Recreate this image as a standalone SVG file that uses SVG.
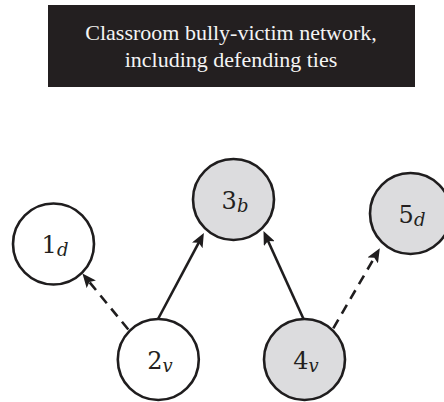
<svg xmlns="http://www.w3.org/2000/svg" width="444" height="402" viewBox="0 0 444 402">
  <style>
    .title { font-family: "Liberation Serif", "Times New Roman", serif; font-size: 22px; fill: #f4f4f4; text-anchor: middle; }
    .node circle { stroke: #1f1d1e; stroke-width: 2.6; }
    .plain circle { fill: #ffffff; }
    .shaded circle { fill: #dcdcde; }
    .lbl { font-family: "DejaVu Serif", "Liberation Serif", serif; font-size: 24px; fill: #231f20; text-anchor: middle; }
    .sub { font-style: italic; font-size: 18px; }
    .edge { stroke: #1f1d1e; stroke-width: 2.6; fill: none; marker-end: url(#head); }
    .dashed { stroke-dasharray: 10 7; }
  </style>
  <defs>
    <marker id="head" markerUnits="userSpaceOnUse" viewBox="0 0 14 12" markerWidth="14" markerHeight="12" refX="6" refY="6" orient="auto">
      <path d="M0,0 L14,6 L0,12 L3,6 z" fill="#1f1d1e"/>
    </marker>
  </defs>

  <!-- title banner -->
  <g id="title">
    <rect x="48" y="5" width="367" height="82" fill="#231f20"/>
    <text class="title" x="231" y="40">Classroom bully-victim network,</text>
    <text class="title" x="231" y="67">including defending ties</text>
  </g>

  <!-- ties: solid = bullying, dashed = defending -->
  <g id="edges">
    <line class="edge" x1="158.3" y1="318.5" x2="200.1" y2="240.1"/>
    <line class="edge" x1="303.3" y1="318.5" x2="266.8" y2="238.2"/>
    <line class="edge dashed" x1="128.3" y1="329.5" x2="87.5" y2="279.7"/>
    <line class="edge dashed" x1="333.3" y1="328.3" x2="375.8" y2="255.2"/>
  </g>

  <g id="n1" class="node plain">
    <circle cx="53.5" cy="244" r="40.5"/>
    <text class="lbl" x="55" y="253">1<tspan class="sub" dy="3">d</tspan></text>
  </g>
  <g id="n2" class="node plain">
    <circle cx="158.3" cy="359.5" r="40.5"/>
    <text class="lbl" x="160" y="368.5">2<tspan class="sub" dy="3">v</tspan></text>
  </g>
  <g id="n3" class="node shaded">
    <circle cx="233.5" cy="199.5" r="40.5"/>
    <text class="lbl" x="235" y="208.5">3<tspan class="sub" dy="3">b</tspan></text>
  </g>
  <g id="n4" class="node shaded">
    <circle cx="304.5" cy="359.5" r="40.5"/>
    <text class="lbl" x="306" y="368.5">4<tspan class="sub" dy="3">v</tspan></text>
  </g>
  <g id="n5" class="node shaded">
    <circle cx="410.5" cy="213.5" r="40.5"/>
    <text class="lbl" x="412" y="222.5">5<tspan class="sub" dy="3">d</tspan></text>
  </g>
</svg>
